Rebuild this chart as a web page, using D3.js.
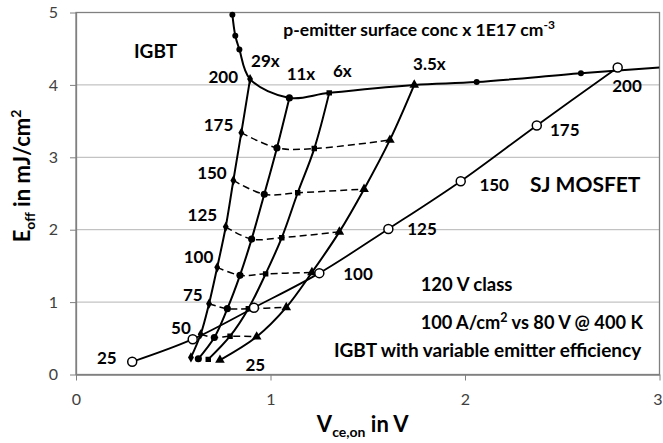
<!DOCTYPE html>
<html>
<head>
<meta charset="utf-8">
<script src="https://cdn.jsdelivr.net/npm/d3@7"></script>
<style>
  body { margin: 0; background: #fff; }
  svg text { font-family: Lato, "Open Sans", sans-serif; }
</style>
</head>
<body>
<svg id="chart" width="663" height="443"></svg>
<script>
// current densities along each IGBT curve (A/cm2)
const currents = [25, 50, 75, 100, 125, 150, 175, 200]
const emitterLabels = ['29x', '11x', '6x', '3.5x']

// IGBT, one curve per p-emitter surface concentration
const vce29 = [0.591, 0.641, 0.684, 0.726, 0.770, 0.809, 0.850, 0.895]
const eoff29 = [0.236, 0.556, 0.978, 1.48, 2.04, 2.68, 3.34, 4.08]
const vce11 = [0.629, 0.711, 0.778, 0.843, 0.903, 0.968, 1.033, 1.097]
const eoff11 = [0.217, 0.511, 0.909, 1.37, 1.87, 2.49, 3.13, 3.82]
const vce6 = [0.680, 0.792, 0.886, 0.975, 1.058, 1.140, 1.225, 1.302]
const eoff6 = [0.209, 0.529, 0.909, 1.39, 1.89, 2.51, 3.12, 3.89]
const vce35 = [0.740, 0.929, 1.081, 1.213, 1.354, 1.481, 1.614, 1.739]
const eoff35 = [0.199, 0.522, 0.927, 1.41, 1.97, 2.56, 3.24, 4.00]

// 200 A/cm2 line continued to higher and lower emitter concentrations
const hiVce = [0.804, 0.819, 0.840]
const hiEoff = [4.97, 4.68, 4.49]
const loVce = [2.060, 2.596, 3.0]
const loEoff = [4.04, 4.16, 4.24]

// SJ MOSFET
const sjVce = [0.289, 0.600, 0.915, 1.251, 1.606, 1.978, 2.369, 2.785]
const sjEoff = [0.176, 0.488, 0.923, 1.40, 2.01, 2.67, 3.44, 4.24]

const xTicks = [0, 1, 2, 3]
const yTicks = [0, 1, 2, 3, 4, 5]
const gridValues = [1, 2, 3, 4]

const width = 663
const height = 443
const margin = { top: 12.5, right: 3.5, bottom: 68.5, left: 76 }

const svg = d3.select('#chart')
const x = d3.scaleLinear().domain([0, 3]).range([margin.left, width - margin.right])
const y = d3.scaleLinear().domain([0, 5]).range([height - margin.bottom, margin.top])

const pts = (xs, ys) => xs.map((v, i) => [v, ys[i]])
const line = d3.line().x(d => x(d[0])).y(d => y(d[1])).curve(d3.curveCatmullRom.alpha(0.5))

// grid + frame
svg.append('g').selectAll('line').data(gridValues).join('line')
  .attr('x1', x(0)).attr('x2', x(3))
  .attr('y1', d => y(d)).attr('y2', d => y(d))
  .attr('stroke', '#b4b4b4').attr('stroke-width', 1)

svg.append('rect')
  .attr('x', x(0)).attr('y', y(5))
  .attr('width', x(3) - x(0)).attr('height', y(0) - y(5))
  .attr('fill', 'none').attr('stroke', '#808080').attr('stroke-width', 1.3)

// axes
const xAxis = d3.axisBottom(x).tickValues(xTicks).tickFormat(d3.format('d'))
  .tickSizeInner(6).tickSizeOuter(0).tickPadding(13)
const yAxis = d3.axisLeft(y).tickValues(yTicks).tickFormat(d3.format('d'))
  .tickSizeInner(6).tickSizeOuter(0).tickPadding(12)

const gx = svg.append('g').attr('transform', `translate(0,${ y(0) })`).call(xAxis)
const gy = svg.append('g').attr('transform', `translate(${ x(0) },0)`).call(yAxis)
for (const g of [gx, gy]) {
  g.select('.domain').attr('stroke', '#808080').attr('stroke-width', 1.3)
  g.selectAll('.tick line').attr('stroke', '#808080')
  g.selectAll('.tick text').attr('fill', '#404040').attr('font-size', 16)
    .style('font-family', 'Lato, sans-serif')
}
// last x label sits on the page edge, nudge it inside
gx.selectAll('.tick text').filter(d => d === 3).attr('dx', -2)

// plot area
svg.append('clipPath').attr('id', 'plot-clip').append('rect')
  .attr('x', x(0)).attr('y', y(5) - 1)
  .attr('width', x(3) - x(0)).attr('height', y(0) - y(5) + 1)
const plot = svg.append('g').attr('clip-path', 'url(#plot-clip)')

const igbt = [
  { vce: vce29, eoff: eoff29, symbol: d3.symbolDiamond, size: 30 },
  { vce: vce11, eoff: eoff11, symbol: d3.symbolCircle, size: 40 },
  { vce: vce6, eoff: eoff6, symbol: d3.symbolSquare, size: 30 },
  { vce: vce35, eoff: eoff35, symbol: d3.symbolTriangle, size: 40 }
]

// iso-current dashed lines, 50 ... 175
currents.forEach((c, i) => {
  if (c === 25 || c === 200) return
  plot.append('path')
    .attr('d', line(igbt.map(s => [s.vce[i], s.eoff[i]])))
    .attr('fill', 'none').attr('stroke', '#000')
    .attr('stroke-width', 1.5).attr('stroke-dasharray', '7,4')
})

igbt.forEach(s => {
  plot.append('path')
    .attr('d', line(pts(s.vce, s.eoff)))
    .attr('fill', 'none').attr('stroke', '#000').attr('stroke-width', 2)
})

const topLine = [
  ...pts(hiVce, hiEoff),
  ...igbt.map(s => [s.vce[7], s.eoff[7]]),
  ...pts(loVce, loEoff)
]
plot.append('path')
  .attr('d', line(topLine))
  .attr('fill', 'none').attr('stroke', '#000').attr('stroke-width', 2)

plot.append('path')
  .attr('d', line(pts(sjVce, sjEoff)))
  .attr('fill', 'none').attr('stroke', '#000').attr('stroke-width', 1.8)

// markers
igbt.forEach(s => {
  plot.append('g').selectAll('path').data(pts(s.vce, s.eoff)).join('path')
    .attr('transform', d => `translate(${ x(d[0]) },${ y(d[1]) })`)
    .attr('d', d3.symbol().type(s.symbol).size(s.size))
    .attr('fill', '#000')
})

svg.append('g').selectAll('circle')
  .data([...pts(hiVce, hiEoff), ...pts(loVce, loEoff)].filter(d => d[0] < 3))
  .join('circle')
  .attr('cx', d => x(d[0])).attr('cy', d => y(d[1])).attr('r', 3)
  .attr('fill', '#000')

svg.append('g').selectAll('circle').data(pts(sjVce, sjEoff)).join('circle')
  .attr('cx', d => x(d[0])).attr('cy', d => y(d[1])).attr('r', 4.5)
  .attr('fill', '#fff').attr('stroke', '#000').attr('stroke-width', 1.5)

// annotations (positions in data units)
const notes = svg.append('g').attr('font-weight', 'bold').attr('fill', '#000')

const addText = (txt, vx, vy, anchor, size) =>
  notes.append('text')
    .attr('x', x(vx)).attr('y', y(vy))
    .attr('text-anchor', anchor).attr('font-size', size)
    .text(txt)

// current labels on the IGBT side
const igbtLabelPos = [[0.209, 0.144], [0.590, 0.566], [0.651, 1.02], [0.706, 1.54],
  [0.726, 2.12], [0.775, 2.70], [0.809, 3.36], [0.833, 4.02]]
currents.forEach((c, i) => addText(String(c), igbtLabelPos[i][0], igbtLabelPos[i][1], 'end', 17))
addText('25', 0.871, 0.055, 'start', 17)

// current labels on the MOSFET side
const sjLabelPos = [[1.374, 1.30], [1.703, 1.92], [2.074, 2.53], [2.437, 3.29], [2.757, 3.90]]
currents.slice(3).forEach((c, i) => addText(String(c), sjLabelPos[i][0], sjLabelPos[i][1], 'start', 17))

// emitter concentration labels
const emitterPos = [[0.900, 4.25], [1.083, 4.07], [1.321, 4.11], [1.733, 4.21]]
emitterLabels.forEach((t, i) => addText(t, emitterPos[i][0], emitterPos[i][1], 'start', 17))

addText('IGBT', 0.298, 4.37, 'start', 19)
addText('SJ MOSFET', 2.334, 2.52, 'start', 21)
addText('120 V class', 1.772, 1.16, 'start', 18.5)

const conc = addText('p-emitter surface conc x 1E17 cm', 1.066, 4.67, 'start', 17.5)
conc.append('tspan').attr('font-size', 12).attr('dy', -7).text('-3')

const cond = addText('100 A/cm', 1.772, 0.635, 'start', 18.2)
cond.append('tspan').attr('font-size', 12.5).attr('dy', -7).text('2')
cond.append('tspan').attr('dy', 7).text(' vs 80 V @ 400 K')

addText('IGBT with variable emitter efficiency', 1.326, 0.236, 'start', 19)

// axis titles
const xTitle = svg.append('text')
  .attr('x', (x(0) + x(3)) / 2 - 5).attr('y', 432)
  .attr('text-anchor', 'middle').attr('font-weight', 'bold').attr('font-size', 22)
xTitle.append('tspan').text('V')
xTitle.append('tspan').attr('font-size', 14).attr('dy', 5).text('ce,on')
xTitle.append('tspan').attr('dy', -5).text(' in V')

const yTitle = svg.append('text')
  .attr('transform', `translate(30,${ 176 }) rotate(-90)`)
  .attr('text-anchor', 'middle').attr('font-weight', 'bold').attr('font-size', 22)
yTitle.append('tspan').text('E')
yTitle.append('tspan').attr('font-size', 14).attr('dy', 5).text('off')
yTitle.append('tspan').attr('dy', -5).text(' in mJ/cm')
yTitle.append('tspan').attr('font-size', 14).attr('dy', -9).text('2')
</script>
</body>
</html>
